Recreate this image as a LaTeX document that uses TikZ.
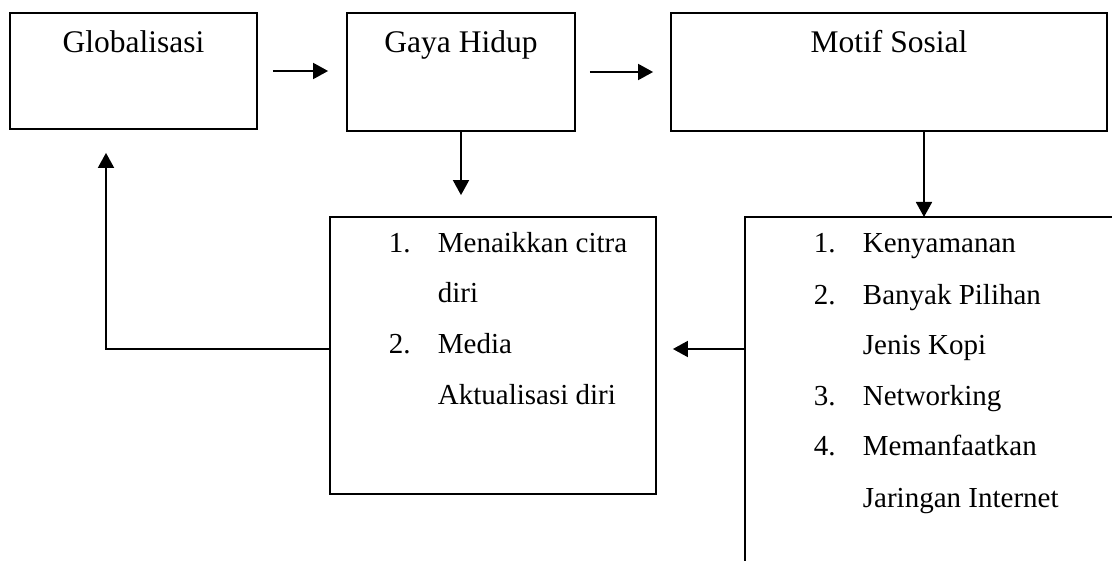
\documentclass[tikz,border=0pt]{standalone}
\usepackage{fontspec}
\setmainfont{Liberation Serif}
\usetikzlibrary{arrows.meta,positioning}

\begin{document}
\begin{tikzpicture}[x=1pt,y=-1pt,line width=1.8pt,
    every node/.style={inner sep=0pt,font=\fontsize{29}{35}\selectfont},
    box/.style={draw,rectangle,line width=1.8pt},
    ttl/.style={anchor=base,font=\fontsize{31.5}{37}\selectfont},
    itm/.style={anchor=base west},
    arr/.style={-{Triangle[length=15pt,width=16pt]}}]
  \useasboundingbox (0,0) rectangle (1112,561);
  \clip (0,0) rectangle (1112,561);

  \node[box,minimum width=247,minimum height=116] (glob) at (133.5,71) {};
  \node[box,minimum width=228,minimum height=118] (gaya) at (461,72) {};
  \node[box,minimum width=436,minimum height=118] (motif) at (889,72) {};
  \node[box,minimum width=326,minimum height=277] (citra) at (493,355.5) {};
  \node[box,minimum width=385,minimum height=383] (motifdesc) at (937.5,408.5) {};

  \node[ttl] (globtxt) at (133.5,53) {Globalisasi};
  \node[ttl] (gayatxt) at (461,53) {Gaya Hidup};
  \node[ttl] (motiftxt) at (889,53) {Motif Sosial};

  \node[itm] (c1) at (388,253) {1.};
  \node[itm] (c1a) at (437,253) {Menaikkan citra};
  \node[itm] (c1b) at (437,303) {diri};
  \node[itm] (c2) at (388,354) {2.};
  \node[itm] (c2a) at (437,354) {Media};
  \node[itm] (c2b) at (437,405) {Aktualisasi diri};

  \node[itm] (m1) at (813,253) {1.};
  \node[itm] (m1a) at (862,253) {Kenyamanan};
  \node[itm] (m2) at (813,305) {2.};
  \node[itm] (m2a) at (862,305) {Banyak Pilihan};
  \node[itm] (m2b) at (862,355) {Jenis Kopi};
  \node[itm] (m3) at (813,406) {3.};
  \node[itm] (m3a) at (862,406) {Networking};
  \node[itm] (m4) at (813,456) {4.};
  \node[itm] (m4a) at (862,456) {Memanfaatkan};
  \node[itm] (m4b) at (862,507) {Jaringan Internet};

  \coordinate (mtip) at (924,217);
  \coordinate (lvl) at (106,349);
  \draw[arr,shorten <=15pt,shorten >=18pt] (glob.east) -- (glob.east -| gaya.west);
  \draw[arr,shorten <=14pt,shorten >=17pt] (gaya.east) -- (gaya.east -| motif.west);
  \draw[arr,shorten >=21pt] (gaya.south) -- (gaya.south |- citra.north);
  \draw[arr] (motif.south -| mtip) -- (mtip);
  \draw[arr,shorten >=16pt] (motifdesc.west |- lvl) -- (citra.east |- lvl);
  \draw[arr,shorten >=23pt] (citra.west |- lvl) -| (glob.south -| lvl);
\end{tikzpicture}
\end{document}
